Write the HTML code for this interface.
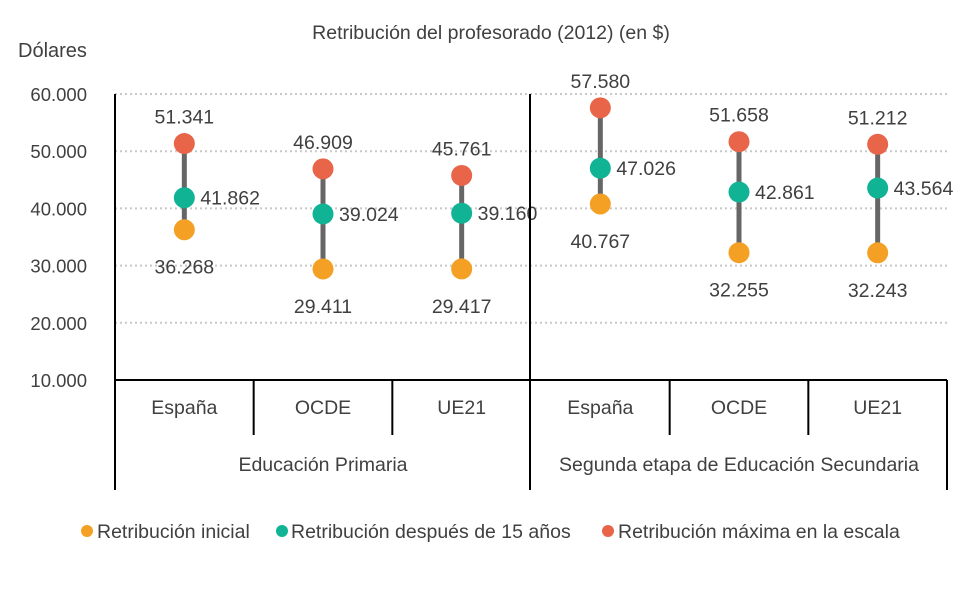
<!DOCTYPE html>
<html><head><meta charset="utf-8"><style>
body{margin:0;background:#fff;}
svg text{font-family:"Liberation Sans",sans-serif;fill:#404040;}
</style></head><body>
<svg id="chart" width="979" height="585" xmlns="http://www.w3.org/2000/svg">
<text x="491" y="39" font-size="19.5" text-anchor="middle">Retribución del profesorado (2012) (en $)</text>
<text x="18" y="57" font-size="20">Dólares</text>
<g id="grid"></g><g id="marks"></g>
<g>
<circle cx="87" cy="531" r="6" fill="#F4A024"/>
<text x="97" y="538" font-size="19.5">Retribución inicial</text>
<circle cx="282" cy="531" r="6" fill="#10B495"/>
<text x="291" y="538" font-size="19.5">Retribución después de 15 años</text>
<circle cx="608" cy="531" r="6" fill="#E8654A"/>
<text x="618" y="538" font-size="19.5">Retribución máxima en la escala</text>
</g>
</svg>
<script>
const categories=["España","OCDE","UE21","España","OCDE","UE21"];
const groups=["Educación Primaria","Segunda etapa de Educación Secundaria"];
const inicial=[36268,29411,29417,40767,32255,32243];
const after15=[41862,39024,39160,47026,42861,43564];
const maxima=[51341,46909,45761,57580,51658,51212];
const yTicks=[10000,20000,30000,40000,50000,60000];
const NS="http://www.w3.org/2000/svg";
const svg=document.getElementById('chart'),grid=document.getElementById('grid'),marks=document.getElementById('marks');
const x0=115,x1=947,bw=(x1-x0)/categories.length;
const y=v=>380-(v-10000)*(286/50000);
const xc=i=>x0+bw*(i+0.5);
const fmt=v=>Math.floor(v/1000)+"."+String(v%1000).padStart(3,"0");
function mk(t,a,p){const e=document.createElementNS(NS,t);for(const k in a)e.setAttribute(k,a[k]);(p||svg).appendChild(e);return e;}
yTicks.forEach(v=>{
 if(v>10000){const l=mk('line',{x1:x0,x2:x1,y1:y(v),y2:y(v),stroke:'#c8c8c8','stroke-width':2,'stroke-dasharray':'2 3'},grid);
 
 }
 const t=mk('text',{x:87,y:y(v)+7,'font-size':18.5,'text-anchor':'end'},grid);t.textContent=fmt(v);
 
 
});
[[x0,94,x0,490],[530,94,530,490],[x1,380,x1,490],[x0,380,x1,380],[x0+bw,380,x0+bw,435],[x0+2*bw,380,x0+2*bw,435],[x0+4*bw,380,x0+4*bw,435],[x0+5*bw,380,x0+5*bw,435]].forEach(c=>{
 const l=mk('line',{x1:c[0],y1:c[1],x2:c[2],y2:c[3],stroke:'#000','stroke-width':2});
 
 
});
categories.forEach((c,i)=>{
 const t=mk('text',{x:xc(i),y:414,'font-size':19.5,'text-anchor':'middle'});t.textContent=c;
 
 
 const cx=xc(i);
 const b=mk('line',{x1:cx,x2:cx,y1:y(maxima[i]),y2:y(inicial[i]),stroke:'#666','stroke-width':5},marks);
 
 
 [[inicial,'#F4A024'],[after15,'#10B495'],[maxima,'#E8654A']].forEach(([arr,col])=>{
  const d=mk('circle',{cx:cx,cy:y(arr[i]),r:10.5,fill:col},marks);
  
  
 });
 const lm=mk('text',{x:cx,y:y(maxima[i])-20,'font-size':19.5,'text-anchor':'middle'},marks);lm.textContent=fmt(maxima[i]);
 
 
 const l15=mk('text',{x:cx+16,y:y(after15[i])+7,'font-size':19.5},marks);l15.textContent=fmt(after15[i]);
 
 
 const li=mk('text',{x:cx,y:y(inicial[i])+44,'font-size':19.5,'text-anchor':'middle'},marks);li.textContent=fmt(inicial[i]);
 
 
});
groups.forEach((g,k)=>{
 const t=mk('text',{x:x0+bw*(3*k+1.5),y:471,'font-size':19.5,'text-anchor':'middle'});t.textContent=g;
 
 
});
</script>
</body></html>
